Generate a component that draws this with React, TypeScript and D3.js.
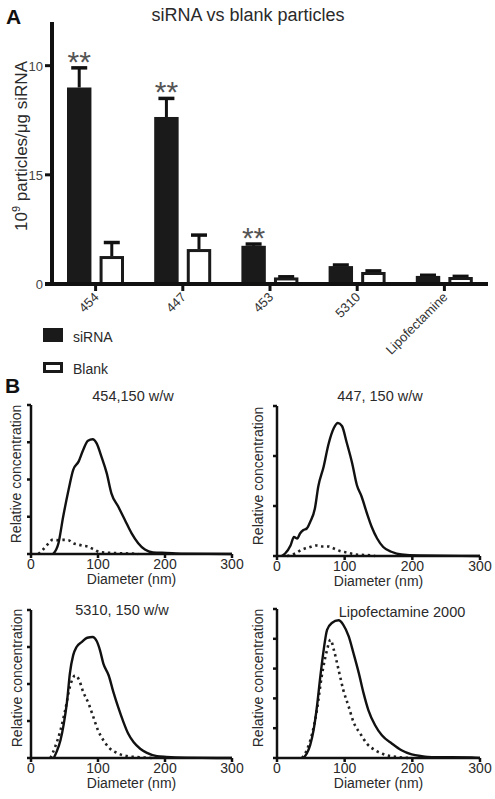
import React from "react";
import * as d3 from "d3";

// ---------- Panel A data ----------
const categories = ["454", "447", "453", "5310", "Lipofectamine"];
const seriesNames = ["siRNA", "Blank"];
const siRNAValues = [9.0, 7.65, 1.75, 0.82, 0.37];
const siRNAErrors = [0.9, 0.85, 0.08, 0.05, 0.03];
const blankValues = [1.28, 1.6, 0.3, 0.55, 0.32];
const blankErrors = [0.62, 0.64, 0.03, 0.05, 0.03];
const significance = ["**", "**", "**", "", ""];
const yTickValues = [0, 5, 10];
const yTickLabels = ["0", "15", "10"];

// ---------- Panel B data (diameter nm, relative concentration) ----------
const p454Solid: [number, number][] = [
  [33, 0], [41, 0.29], [48, 1.0], [56, 1.72], [63, 2.26], [71, 2.48], [78, 2.8], [85, 3.04],
  [92, 3.08], [98, 2.97], [105, 2.62], [113, 2.17], [120, 1.63], [130, 1.28], [140, 0.92],
  [150, 0.56], [160, 0.29], [170, 0.12], [182, 0.045], [202, 0.03], [227, 0.01], [300, 0],
];
const p454Dotted: [number, number][] = [
  [11, 0], [18, 0.12], [26, 0.28], [32, 0.38], [41, 0.37], [48, 0.38], [56, 0.37], [63, 0.29],
  [71, 0.25], [78, 0.22], [85, 0.2], [93, 0.13], [103, 0.05], [118, 0.03], [133, 0.02], [152, 0.01], [160, 0],
];
const p447Solid: [number, number][] = [
  [7, 0], [12, 0.05], [20, 0.21], [25, 0.38], [30, 0.35], [34, 0.45], [39, 0.52], [44, 0.55],
  [49, 0.68], [56, 0.95], [61, 1.39], [69, 1.79], [76, 2.23], [84, 2.56], [90, 2.66], [96, 2.6],
  [103, 2.27], [111, 1.86], [118, 1.42], [125, 1.19], [133, 0.85], [140, 0.58], [148, 0.35],
  [157, 0.18], [170, 0.08], [184, 0.03], [209, 0.01], [300, 0],
];
const p447Dotted: [number, number][] = [
  [15, 0], [27, 0.05], [37, 0.13], [47, 0.17], [58, 0.21], [68, 0.19], [76, 0.19], [84, 0.15],
  [93, 0.1], [103, 0.07], [116, 0.03], [130, 0.02], [140, 0.01], [145, 0],
];
const p5310Solid: [number, number][] = [
  [34, 0], [38, 0.16], [44, 0.48], [49, 0.93], [54, 1.56], [58, 2.28], [63, 2.78], [68, 3.0],
  [76, 3.14], [84, 3.25], [92, 3.27], [98, 3.16], [103, 2.91], [108, 2.55], [116, 2.23],
  [123, 1.78], [130, 1.38], [138, 0.97], [145, 0.66], [153, 0.43], [163, 0.25], [173, 0.14],
  [188, 0.05], [202, 0.03], [232, 0.01], [300, 0],
];
const p5310Dotted: [number, number][] = [
  [29, 0], [36, 0.3], [44, 0.75], [51, 1.29], [58, 1.92], [66, 2.23], [71, 2.14], [78, 1.78],
  [86, 1.47], [93, 1.11], [100, 0.75], [108, 0.48], [118, 0.25], [128, 0.14], [143, 0.05],
  [163, 0.02], [182, 0],
];
const pLipoSolid: [number, number][] = [
  [39, 0], [44, 0.15], [49, 0.43], [54, 0.93], [59, 1.72], [64, 2.73], [69, 3.63], [74, 4.3],
  [81, 4.53], [91, 4.62], [98, 4.47], [106, 4.08], [113, 3.52], [121, 2.84], [128, 2.17],
  [135, 1.61], [145, 1.1], [155, 0.76], [170, 0.48], [184, 0.26], [199, 0.12], [214, 0.06],
  [229, 0.03], [258, 0.03], [288, 0.02], [300, 0],
];
const pLipoDotted: [number, number][] = [
  [37, 0], [44, 0.26], [52, 0.82], [59, 1.61], [66, 2.73], [74, 3.63], [79, 3.97], [84, 3.63],
  [91, 2.96], [98, 2.28], [106, 1.72], [113, 1.21], [123, 0.82], [133, 0.48], [145, 0.26],
  [160, 0.11], [180, 0.03], [199, 0],
];
const panelTitles = ["454,150 w/w", "447, 150 w/w", "5310, 150 w/w", "Lipofectamine 2000"];
const panelYMax = [4, 3, 4, 5];
const diameterTicks = [0, 100, 200, 300];

const FONT = "'Liberation Sans', Arial, Helvetica, sans-serif";
const TXT = "#2a2a2a";

function BarPanel() {
  const x0 = d3.scaleBand<string>().domain(categories).range([52, 488]).paddingInner(0).paddingOuter(0);
  const x1 = d3.scaleBand<string>().domain(seriesNames).range([15, 72]).paddingInner(0.25);
  const y = d3.scaleLinear().domain([0, 12]).range([284, 22]);
  const bw = x1.bandwidth();
  const series = [
    { name: "siRNA", values: siRNAValues, errs: siRNAErrors },
    { name: "Blank", values: blankValues, errs: blankErrors },
  ];
  return (
    <g>
      <text x={6} y={24} fontSize={21} fontWeight="bold" fontFamily={FONT} fill="#111">A</text>
      <text x={248} y={21} fontSize={18} textAnchor="middle" fontFamily={FONT} fill={TXT}>siRNA vs blank particles</text>
      {/* y label */}
      <text transform={`translate(27,${146}) rotate(-90)`} fontSize={17} textAnchor="middle" fontFamily={FONT} fill={TXT}>
        10<tspan dy={-7} fontSize={11}>9</tspan><tspan dy={7}> particles/μg siRNA</tspan>
      </text>
      {/* bars */}
      {series.map((s) =>
        categories.map((c, i) => {
          const bx = (x0(c) as number) + (x1(s.name) as number);
          const v = s.values[i];
          const e = s.errs[i];
          const isBlank = s.name === "Blank";
          return (
            <g key={s.name + c}>
              <line x1={bx + bw / 2} x2={bx + bw / 2} y1={y(v)} y2={y(v + e)} stroke="#111" strokeWidth={3} />
              <line x1={bx + bw / 2 - 8} x2={bx + bw / 2 + 8} y1={y(v + e)} y2={y(v + e)} stroke="#111" strokeWidth={3.5} />
              <rect
                x={isBlank ? bx + 1.5 : bx}
                y={isBlank ? y(v) + 1.5 : y(v)}
                width={isBlank ? bw - 3 : bw}
                height={Math.max(0, y(0) - y(v) - (isBlank ? 1.5 : 0))}
                fill={isBlank ? "#fff" : "#1a1a1a"}
                stroke="#1a1a1a"
                strokeWidth={isBlank ? 3 : 0}
              />
            </g>
          );
        })
      )}
      {/* significance */}
      {categories.map((c, i) =>
        significance[i] ? (
          <text key={"sig" + c} x={(x0(c) as number) + (x1("siRNA") as number) + bw / 2} y={y(siRNAValues[i] + siRNAErrors[i]) + 4}
            fontSize={30} textAnchor="middle" fontFamily={FONT} fill="#555">{significance[i]}</text>
        ) : null
      )}
      {/* axes */}
      <line x1={52} x2={52} y1={22} y2={286} stroke="#111" strokeWidth={4} />
      <line x1={45} x2={488} y1={284} y2={284} stroke="#111" strokeWidth={4} />
      {yTickValues.map((t, i) => (
        <g key={"yt" + t}>
          <line x1={45} x2={52} y1={y(t)} y2={y(t)} stroke="#111" strokeWidth={3} />
          <text x={43} y={y(t) + 5} fontSize={13} textAnchor="end" fontFamily={FONT} fill="#444">{yTickLabels[i]}</text>
        </g>
      ))}
      {categories.map((c) => {
        const cx = (x0(c) as number) + x0.bandwidth() / 2;
        return (
          <g key={"xt" + c}>
            <line x1={cx} x2={cx} y1={284} y2={291} stroke="#111" strokeWidth={3} />
            <text transform={`translate(${cx + 4},${298}) rotate(-45)`} fontSize={13} textAnchor="end" fontFamily={FONT} fill="#333">{c}</text>
          </g>
        );
      })}
      {/* legend */}
      <rect x={43} y={328} width={20} height={14} fill="#1a1a1a" />
      <text x={73} y={342} fontSize={14} fontFamily={FONT} fill={TXT}>siRNA</text>
      <rect x={44.5} y={363.5} width={17} height={8} fill="#fff" stroke="#1a1a1a" strokeWidth={3} />
      <text x={73} y={374} fontSize={14} fontFamily={FONT} fill={TXT}>Blank</text>
    </g>
  );
}

type PanelDef = { x0: number; x1: number; yBase: number; yTop: number; solid: [number, number][]; dotted: [number, number][]; idx: number; ylabX: number; titleX: number; titleY: number };

function SizePanel({ p }: { p: PanelDef }) {
  const x = d3.scaleLinear().domain([0, 300]).range([p.x0, p.x1]);
  const yMax = panelYMax[p.idx];
  const y = d3.scaleLinear().domain([0, yMax]).range([p.yBase, p.yTop]);
  const line = d3.line<[number, number]>().x((d) => x(d[0])).y((d) => y(d[1])).curve(d3.curveMonotoneX);
  const yTicks = d3.range(0, yMax + 1);
  return (
    <g>
      <text x={p.titleX} y={p.titleY} fontSize={14.5} textAnchor="middle" fontFamily={FONT} fill={TXT}>{panelTitles[p.idx]}</text>
      <path d={line(p.dotted) || ""} fill="none" stroke="#222" strokeWidth={2.6} strokeDasharray="2.4 3.6" />
      <path d={line(p.solid) || ""} fill="none" stroke="#111" strokeWidth={2.4} strokeLinejoin="round" />
      <line x1={p.x0} x2={p.x0} y1={p.yTop} y2={p.yBase + 1} stroke="#111" strokeWidth={2.5} />
      <line x1={p.x0 - 1} x2={p.x1} y1={p.yBase} y2={p.yBase} stroke="#111" strokeWidth={2.5} />
      {yTicks.map((t) => (
        <line key={"yt" + t} x1={p.x0 - 4} x2={p.x0} y1={y(t)} y2={y(t)} stroke="#111" strokeWidth={2.5} />
      ))}
      {diameterTicks.map((t) => (
        <g key={"xt" + t}>
          <line x1={x(t)} x2={x(t)} y1={p.yBase} y2={p.yBase + 4} stroke="#111" strokeWidth={2.5} />
          <text x={x(t)} y={p.yBase + 15} fontSize={14} textAnchor="middle" fontFamily={FONT} fill={TXT}>{t}</text>
        </g>
      ))}
      <text x={(p.x0 + p.x1) / 2} y={p.yBase + 30} fontSize={14} textAnchor="middle" fontFamily={FONT} fill={TXT}>Diameter (nm)</text>
      <text transform={`translate(${p.ylabX},${p.yBase - 80}) rotate(-90)`} fontSize={14} textAnchor="middle" fontFamily={FONT} fill={TXT}>Relative concentration</text>
    </g>
  );
}

export default function App() {
  const panels: PanelDef[] = [
    { x0: 31, x1: 232, yBase: 554, yTop: 405, solid: p454Solid, dotted: p454Dotted, idx: 0, ylabX: 21, titleX: 133, titleY: 401 },
    { x0: 277, x1: 480, yBase: 556, yTop: 406, solid: p447Solid, dotted: p447Dotted, idx: 1, ylabX: 263, titleX: 380, titleY: 401 },
    { x0: 31, x1: 232, yBase: 758, yTop: 610, solid: p5310Solid, dotted: p5310Dotted, idx: 2, ylabX: 22, titleX: 122, titleY: 615 },
    { x0: 277, x1: 480, yBase: 758, yTop: 609, solid: pLipoSolid, dotted: pLipoDotted, idx: 3, ylabX: 263, titleX: 402, titleY: 617 },
  ];
  return (
    <svg width={495} height={799} style={{ position: "absolute", left: 0, top: 0, background: "#fff" }}>
      <rect width={495} height={799} fill="#fff" />
      <BarPanel />
      <text x={5} y={393} fontSize={21} fontWeight="bold" fontFamily={FONT} fill="#111">B</text>
      {panels.map((p) => (
        <SizePanel key={p.idx} p={p} />
      ))}
    </svg>
  );
}
